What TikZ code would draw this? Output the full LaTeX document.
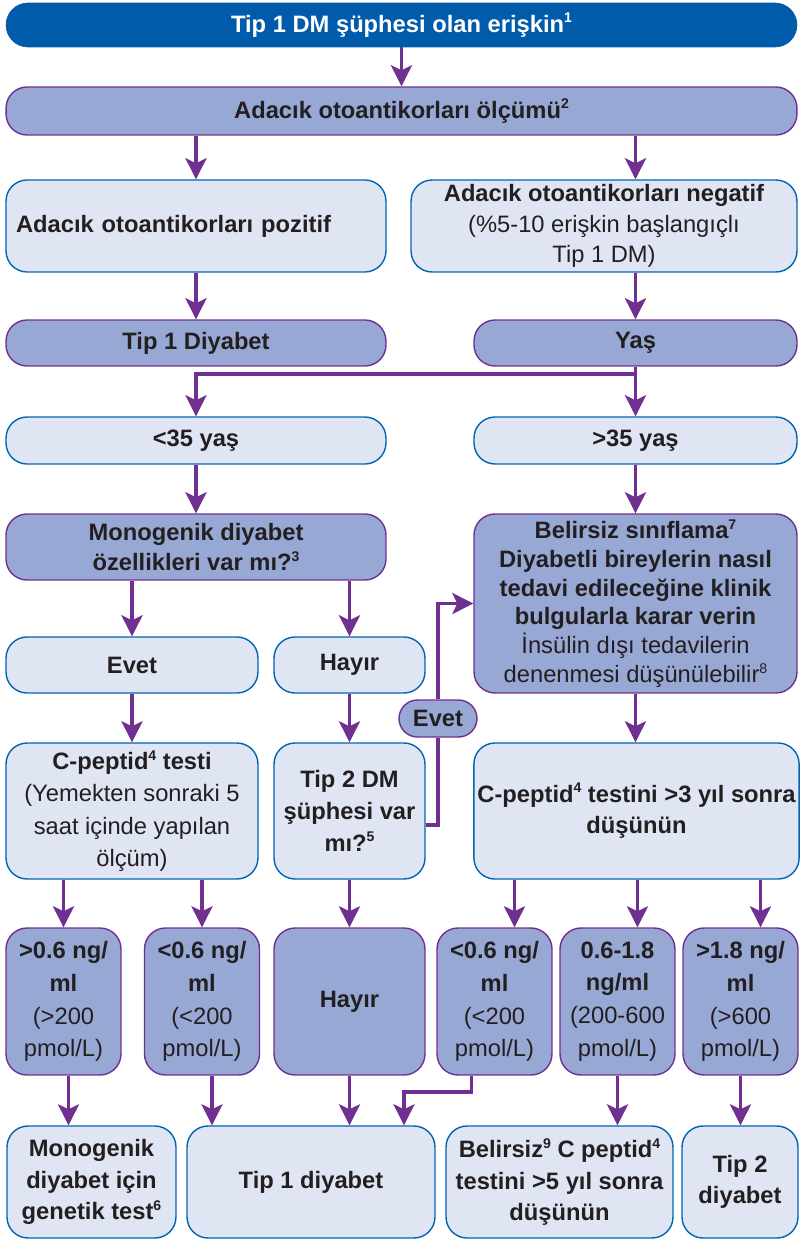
\documentclass[tikz,border=0pt]{standalone}
\usepackage{fontspec}
\setmainfont{Liberation Sans}
\usepackage{tikz}
\usetikzlibrary{arrows.meta}
\usetikzlibrary{calc}
\definecolor{tepe}{RGB}{0,91,170}
\definecolor{orta}{RGB}{152,168,212}
\definecolor{acik}{RGB}{223,229,243}
\definecolor{mavi}{RGB}{0,101,178}
\definecolor{mor}{RGB}{112,48,145}
\definecolor{yazi}{RGB}{35,31,32}
\newcommand{\ust}[1]{\raisebox{0.75ex}{\fontsize{8}{8}\selectfont #1}}

\begin{document}
\begin{tikzpicture}[x=0.02cm,y=-0.02cm,
    every node/.style={text=yazi,font=\fontsize{13.5}{17.5}\selectfont\bfseries,align=center,inner sep=2pt},
    acikbox/.style={draw=mavi,fill=acik,line width=0.8pt,rounded corners=0.42cm},
    ortabox/.style={draw=mor,fill=orta,line width=0.8pt,rounded corners=0.42cm},
    ok/.style={draw=mor,line width=2.1pt,-{Stealth[length=0.42cm,width=0.42cm,inset=0.1cm]}},
    cizgi/.style={draw=mor,line width=2.1pt}]
    \useasboundingbox (0,0) rectangle (801,1240);
    % ust kisim
    \node[fill=tepe,draw=tepe,rounded corners=0.44cm,minimum width=15.82cm,minimum height=0.88cm,text=white] (supheli) at (401.5,25) {Tip 1 DM şüphesi olan erişkin\ust{1}};
    \node[ortabox,minimum width=15.82cm,minimum height=0.96cm] (olcum) at (401.5,111) {Adacık otoantikorları ölçümü\ust{2}};
    \node[acikbox,minimum width=7.6cm,minimum height=1.84cm,align=left,text width=7.2cm] (pozitif) at (196,226) {Adacık otoantikorları pozitif};
    \node[acikbox,minimum width=7.72cm,minimum height=1.84cm] (negatif) at (604,226) {Adacık otoantikorları negatif\\ \mdseries (\%5-10 erişkin başlangıçlı\\ \mdseries Tip 1 DM)};
    \node[ortabox,minimum width=7.6cm,minimum height=0.92cm] (tip1) at (196,343) {Tip 1 Diyabet};
    \node[ortabox,minimum width=6.46cm,minimum height=0.92cm] (yas) at (635.5,343) {Yaş};
    \node[acikbox,minimum width=7.6cm,minimum height=0.94cm] (genc) at (196,440.5) {<35 yaş};
    \node[acikbox,minimum width=6.46cm,minimum height=0.94cm] (yasli) at (635.5,440.5) {>35 yaş};
    \node[ortabox,minimum width=7.6cm,minimum height=1.32cm] (monogenik) at (196,547) {Monogenik diyabet\\özellikleri var mı?\ust{3}};
    \node[ortabox,minimum width=6.46cm,minimum height=3.58cm,font=\fontsize{13.5}{16.4}\selectfont\bfseries] (belirsiz) at (635.5,603.5) {Belirsiz sınıflama\ust{7}\\Diyabetli bireylerin nasıl\\tedavi edileceğine klinik\\bulgularla karar verin\\ \mdseries İnsülin dışı tedavilerin\\ \mdseries denenmesi düşünülebilir\ust{8}};
    \node[acikbox,minimum width=5.04cm,minimum height=1.12cm] (evet) at (132,665) {Evet};
    \node[acikbox,minimum width=3.02cm,minimum height=1.12cm] (hayir) at (349.5,665) {Hayır};
    \node[ortabox,rounded corners=0.37cm,minimum width=1.56cm,minimum height=0.74cm,inner sep=1pt] (evetok) at (438,718.5) {Evet};
    % orta kisim
    \node[acikbox,minimum width=5.04cm,minimum height=2.72cm,font=\fontsize{13.5}{18.4}\selectfont\bfseries] (cpeptid) at (132,811) {C-peptid\ust{4} testi\\ \mdseries (Yemekten sonraki 5\\ \mdseries saat içinde yapılan\\ \mdseries ölçüm)};
    \node[acikbox,minimum width=3.02cm,minimum height=2.72cm,font=\fontsize{13.5}{18}\selectfont\bfseries] (tip2soru) at (349.5,811) {Tip 2 DM\\şüphesi var\\mı?\ust{5}};
    \node[acikbox,minimum width=6.46cm,minimum height=2.72cm,font=\fontsize{13.5}{18}\selectfont\bfseries] (uc) at (636.5,811) {C-peptid\ust{4} testini >3 yıl sonra\\düşünün};
    % degerler
    \tikzset{deger/.style={ortabox,minimum width=2.3cm,minimum height=2.94cm,font=\fontsize{13.5}{18.7}\selectfont\bfseries}}
    \node[deger] (yuksek) at (63.5,1001.5) {>0.6 ng/\\ml\\ \mdseries (>200\\ \mdseries pmol/L)};
    \node[deger] (dusuk) at (202,1001.5) {<0.6 ng/\\ml\\ \mdseries (<200\\ \mdseries pmol/L)};
    \node[deger,minimum width=3.02cm] (hayir2) at (349.5,1001.5) {Hayır};
    \node[deger] (dusuk2) at (494.5,1001.5) {<0.6 ng/\\ml\\ \mdseries (<200\\ \mdseries pmol/L)};
    \node[deger] (orta2) at (617.5,1001.5) {0.6-1.8\\ng/ml\\ \mdseries (200-600\\ \mdseries pmol/L)};
    \node[deger] (yuksek2) at (740.5,1001.5) {>1.8 ng/\\ml\\ \mdseries (>600\\ \mdseries pmol/L)};
    % sonuclar
    \tikzset{sonuc/.style={acikbox,minimum height=2.24cm,font=\fontsize{13.5}{17.9}\selectfont\bfseries}}
    \node[sonuc,minimum width=3.38cm] (genetik) at (91.5,1182) {Monogenik\\diyabet için\\genetik test\ust{6}};
    \node[sonuc,minimum width=4.96cm] (tipbir) at (311,1182) {Tip 1 diyabet};
    \node[sonuc,minimum width=4.54cm] (bes) at (559.5,1182) {Belirsiz\ust{9} C peptid\ust{4}\\testini >5 yıl sonra\\düşünün};
    \node[sonuc,minimum width=2.32cm] (tipiki) at (740,1182) {Tip 2\\diyabet};
    % oklar
    \draw[ok] (supheli.south) -- (olcum.north);
    \draw[ok] (olcum.south -| pozitif) -- (pozitif.north);
    \draw[ok] (olcum.south -| yas) -- (negatif.north -| yas);
    \draw[ok] (pozitif.south) -- (tip1.north);
    \draw[ok] (negatif.south -| yas) -- (yas.north);
    \draw[ok] (yas.south) -- (yasli.north);
    \draw[ok] (yas.south) -- ++(0,7) -| (genc.north);
    \draw[ok] (genc.south) -- (monogenik.north);
    \draw[ok] (yasli.south) -- (belirsiz.north);
    \draw[ok] (monogenik.south -| evet) -- (evet.north);
    \draw[ok] (monogenik.south -| hayir) -- (hayir.north);
    \draw[ok] (evet.south) -- (cpeptid.north);
    \draw[ok] (hayir.south) -- (tip2soru.north);
    \draw[ok] (belirsiz.south) -- (belirsiz.south |- uc.north);
    \draw[cizgi] ([yshift=-0.28cm]tip2soru.east) -| (evetok.south);
    \draw[ok] (evetok.north) |- (belirsiz.west);
    \draw[ok] (cpeptid.south -| yuksek) -- (yuksek.north);
    \draw[ok] (cpeptid.south -| dusuk) -- (dusuk.north);
    \draw[ok] (tip2soru.south) -- (hayir2.north);
    \draw[ok] ($(uc.south -| dusuk2)+(20,0)$) -- ($(dusuk2.north)+(20,0)$);
    \draw[ok] ($(uc.south -| orta2)+(20,0)$) -- ($(orta2.north)+(20,0)$);
    \draw[ok] ($(uc.south -| yuksek2)+(20,0)$) -- ($(yuksek2.north)+(20,0)$);
    \draw[ok] ($(yuksek.south)+(5,0)$) -- ($(yuksek.south |- genetik.north)+(5,0)$);
    \draw[ok] ($(dusuk.south)+(10,0)$) -- ($(dusuk.south |- tipbir.north)+(10,0)$);
    \draw[ok] (hayir2.south) -- (hayir2.south |- tipbir.north);
    \draw[ok] ($(dusuk2.south)+(-23,0)$) -- ++(0,16) -| ($(tipbir.north)+(93,0)$);
    \draw[ok] (orta2.south) -- (orta2.south |- bes.north);
    \draw[ok] (yuksek2.south) -- (yuksek2.south |- tipiki.north);
\end{tikzpicture}
\end{document}
